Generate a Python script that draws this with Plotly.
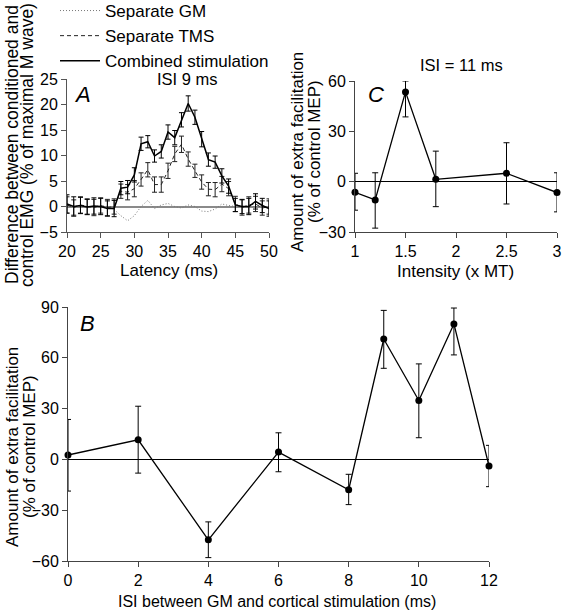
import plotly.graph_objects as go

# ---------------- Panel A data ----------------
latency = list(range(20, 51))
gm_sep = [0.0, 0.1, 0.0, -0.1, 0.0, 0.1, 0.0, -0.6, -1.8, -2.8, -1.8, 0.0, 1.2, -0.4, 0.3,
          0.6, 0.0, -0.3, 0.3, 0.0, -0.9, -1.0, -0.5, 0.5, 0.2, 0.0, 0.0, 0.0, 0.1, 0.0, 0.0]
tms_sep = [0.3, -0.2, 0.3, 0.0, -0.2, 0.2, -0.2, 0.0, 3.0, 2.8, 3.5, 5.3, 7.2, 4.3, 4.3,
           7.0, 10.3, 12.2, 9.3, 7.0, 4.8, 3.4, 3.3, 4.4, 3.5, 0.5, -0.2, 0.3, 0.5, -0.3, 0.0]
tms_err = [1.6, 1.5, 1.6, 1.5, 1.6, 1.5, 1.6, 1.5, 1.4, 1.5, 1.6, 1.3, 1.4, 1.5, 1.5,
           1.5, 1.5, 1.6, 1.4, 1.3, 1.4, 1.3, 1.4, 1.5, 1.4, 1.5, 1.5, 1.6, 1.5, 1.4, 1.5]
combined = [0.5, 0.0, 0.2, -0.1, 0.1, 0.0, -0.4, -0.4, 3.6, 3.8, 6.2, 12.3, 12.7, 9.9, 10.8,
            14.6, 13.5, 17.0, 20.2, 17.5, 13.2, 9.2, 8.7, 6.0, 4.0, 0.3, 0.0, 0.0, 1.0, 0.2, -0.4]
combined_err = [1.8, 1.9, 1.6, 1.5, 1.6, 1.6, 1.5, 1.6, 1.3, 1.3, 1.4, 1.3, 1.2, 1.2, 1.3,
                1.4, 1.4, 1.4, 1.5, 1.4, 1.5, 1.3, 1.2, 1.4, 1.4, 1.3, 1.4, 1.6, 1.5, 1.4, 1.5]

# ---------------- Panel B data ----------------
isi = [0, 2, 4, 6, 8, 9, 10, 11, 12]
facil_b = [2.6, 11.6, -47.5, 4.3, -17.9, 71.1, 34.8, 80.0, -3.9]
facil_b_up = [21.0, 19.8, 10.6, 11.4, 9.1, 16.9, 21.6, 9.4, 12.2]
facil_b_down = [21.3, 19.7, 10.5, 11.6, 8.8, 17.3, 22.0, 18.3, 12.2]

# ---------------- Panel C data ----------------
intensity = [1.0, 1.2, 1.5, 1.8, 2.5, 3.0]
facil_c = [-6.3, -10.9, 53.5, 1.4, 5.0, -6.5]
facil_c_up = [11.3, 16.2, 6.5, 16.8, 18.2, 11.8]
facil_c_down = [10.7, 16.8, 14.9, 16.3, 18.3, 11.5]

W, H = 566, 613
FONT = "Liberation Sans, Arial, Helvetica, sans-serif"


def px(x):
    return x / W


def py(y):
    return 1 - y / H


fig = go.Figure()

# Panel A
fig.add_trace(go.Scatter(
    x=latency, y=gm_sep, mode="lines", name="Separate GM",
    line=dict(color="#777777", width=1, dash="1px,2px"),
    xaxis="x", yaxis="y"))
fig.add_trace(go.Scatter(
    x=latency, y=tms_sep, mode="lines", name="Separate TMS",
    line=dict(color="#222222", width=1, dash="4px,3px"),
    error_y=dict(type="data", array=tms_err, color="#222222", thickness=1, width=2.5),
    xaxis="x", yaxis="y"))
fig.add_trace(go.Scatter(
    x=latency, y=combined, mode="lines", name="Combined stimulation",
    line=dict(color="black", width=1.5),
    error_y=dict(type="data", array=combined_err, color="black", thickness=1, width=2.5),
    xaxis="x", yaxis="y"))

# Panel B
fig.add_trace(go.Scatter(
    x=isi, y=facil_b, mode="lines+markers", showlegend=False, cliponaxis=False,
    line=dict(color="black", width=1.3),
    marker=dict(size=7, color="black"),
    error_y=dict(type="data", symmetric=False, array=facil_b_up, arrayminus=facil_b_down,
                 color="black", thickness=1, width=3),
    xaxis="x2", yaxis="y2"))

# Panel C
fig.add_trace(go.Scatter(
    x=intensity, y=facil_c, mode="lines+markers", showlegend=False, cliponaxis=False,
    line=dict(color="black", width=1.3),
    marker=dict(size=7, color="black"),
    error_y=dict(type="data", symmetric=False, array=facil_c_up, arrayminus=facil_c_down,
                 color="black", thickness=1, width=3),
    xaxis="x3", yaxis="y3"))

axis_common = dict(showgrid=False, showline=True, ticks="outside", ticklen=5,
                   tickwidth=1, automargin=False,
                   tickfont=dict(size=16, color="black", family=FONT))

fig.update_layout(
    template="none",
    width=W, height=H,
    margin=dict(l=0, r=0, t=0, b=0, pad=0, autoexpand=False),
    paper_bgcolor="white", plot_bgcolor="white",
    font=dict(family=FONT, color="black"),
    showlegend=True,
    legend=dict(x=px(55), y=py(-7), xanchor="left", yanchor="top", itemwidth=40,
                bgcolor="rgba(0,0,0,0)", borderwidth=0, font=dict(size=17, family=FONT)),
    xaxis=dict(domain=[px(67), px(269)], range=[20, 50], tickvals=[20, 25, 30, 35, 40, 45, 50],
               anchor="y", zeroline=False, linecolor="#555555", tickcolor="#555555", **axis_common),
    yaxis=dict(domain=[py(232), py(79)], range=[-5, 25], tickvals=[-5, 0, 5, 10, 15, 20, 25],
               anchor="x", zeroline=True, zerolinecolor="#8a8a8a", zerolinewidth=2,
               linecolor="#555555", tickcolor="#555555", **axis_common),
    xaxis2=dict(domain=[px(68), px(489)], range=[0, 12], tickvals=[0, 2, 4, 6, 8, 10, 12],
                anchor="y2", zeroline=False, linecolor="#444444", tickcolor="#444444", **axis_common),
    yaxis2=dict(domain=[py(561), py(307)], range=[-60, 90], tickvals=[-60, -30, 0, 30, 60, 90],
                anchor="x2", zeroline=True, zerolinecolor="black", zerolinewidth=1,
                linecolor="#444444", tickcolor="#444444", **axis_common),
    xaxis3=dict(domain=[px(355), px(557)], range=[1, 3], tickvals=[1, 1.5, 2, 2.5, 3],
                ticktext=["1", "1.5", "2", "2.5", "3"],
                anchor="y3", zeroline=False, linecolor="#444444", tickcolor="#444444", **axis_common),
    yaxis3=dict(domain=[py(232), py(81)], range=[-30, 60], tickvals=[-30, 0, 30, 60],
                anchor="x3", zeroline=True, zerolinecolor="black", zerolinewidth=1,
                linecolor="#444444", tickcolor="#444444", **axis_common),
)


def ann(text, x, y, size=17, angle=0, italic=False):
    fig.add_annotation(
        text=f"<i>{text}</i>" if italic else text,
        x=px(x), y=py(y), xref="paper", yref="paper",
        xanchor="center", yanchor="middle", showarrow=False, textangle=angle,
        font=dict(size=size, family=FONT, color="black"))


# Panel letters and condition labels
ann("A", 82, 95, size=22, italic=True)
ann("B", 87, 323, size=22, italic=True)
ann("C", 376, 94, size=22, italic=True)
ann("ISI 9 ms", 187, 79, size=16.5)
ann("ISI = 11 ms", 461, 65, size=16.5)

# Axis titles
ann("Difference between conditioned and", 12, 145, size=17.5, angle=-90)
ann("control EMG (% of maximal M wave)", 27, 145, size=17.5, angle=-90)
ann("Latency (ms)", 169, 270, size=17)
ann("Amount of extra facilitation", 298, 152, size=17, angle=-90)
ann("(% of control MEP)", 315, 152, size=17, angle=-90)
ann("Intensity (x MT)", 455, 271, size=17)
ann("Amount of extra facilitation", 12, 447, size=17, angle=-90)
ann("(% of control MEP)", 29, 447, size=17, angle=-90)
ann("ISI between GM and cortical stimulation (ms)", 277, 601, size=16)

fig.write_html(
    "out.html",
    config={"displayModeBar": False, "staticPlot": True},
    post_script="document.body.style.margin='0';document.body.style.padding='0';"
                "document.body.style.overflow='hidden';")
